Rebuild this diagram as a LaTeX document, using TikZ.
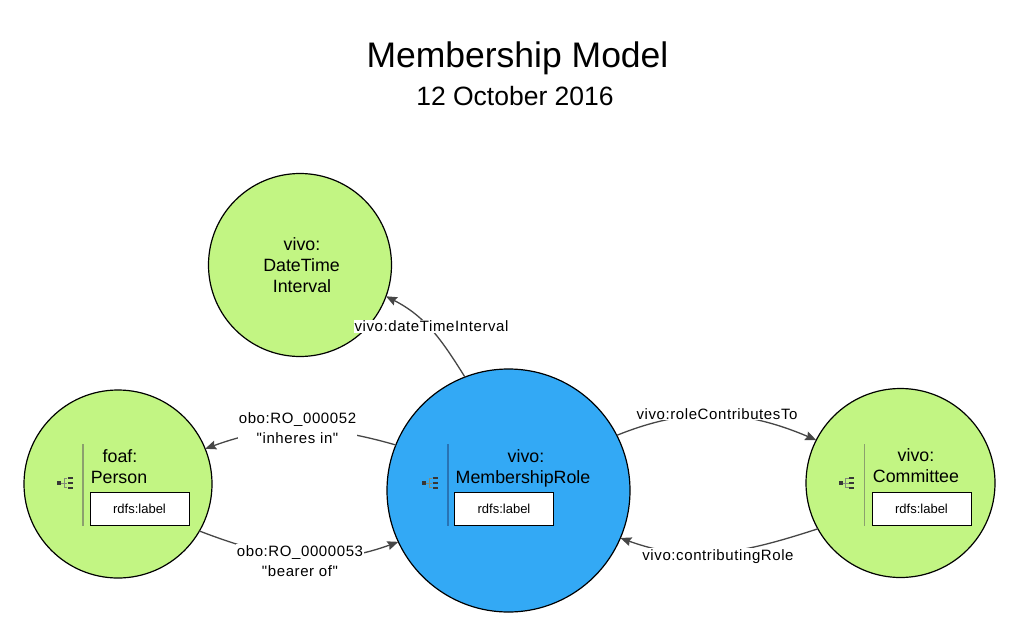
\documentclass[tikz,border=0pt]{standalone}
\usepackage{fontspec}
\setmainfont{Liberation Sans}
\newfontfamily\lblfont[LetterSpace=4]{Liberation Sans}
\usetikzlibrary{arrows.meta}
\definecolor{nodegreen}{RGB}{194,245,131}
\definecolor{nodeblue}{RGB}{51,169,245}
\definecolor{edgegray}{RGB}{70,70,70}
\definecolor{sepgreen}{RGB}{140,160,110}
\definecolor{sepblue}{RGB}{40,115,180}
\definecolor{icongray}{RGB}{55,55,55}
\definecolor{thingray}{RGB}{130,140,120}
\newcommand{\classicon}[2]{%
  \begin{scope}[shift={(#1,-#2)}]
    \fill[icongray] (0,-2) rectangle (4,2);
    \draw[thingray, line width=0.6pt] (4,0) -- (10,0) (6.5,4.7) -- (6.5,-4.7) (6.5,4.7) -- (10,4.7) (6.5,-4.7) -- (10,-4.7);
    \draw[icongray, line width=2.2pt] (10.4,4.7) -- (15.4,4.7) (10.4,0) -- (15.4,0) (10.4,-4.7) -- (15.4,-4.7);
  \end{scope}}
\begin{document}
\begin{tikzpicture}[x=1pt,y=1pt,
  cls/.style={circle, draw=black, line width=1.2pt, inner sep=0pt, outer sep=0pt},
  nametext/.style={anchor=base, font=\fontsize{17.8}{21}\selectfont, inner sep=0pt},
  lblbox/.style={draw=black, line width=1pt, fill=white, minimum width=99pt, minimum height=33pt, inner sep=0pt, font=\fontsize{13}{15}\selectfont},
  edge/.style={draw=edgegray, line width=1.3pt, -{Stealth[length=11pt,width=9pt,inset=1.5pt]}},
  elabel/.style={fill=white, inner sep=1pt, font=\lblfont\fontsize{15}{20}\selectfont},
]
\path[use as bounding box] (0,0) rectangle (1020,-632);

\node[anchor=base, font=\fontsize{35.5}{40}\selectfont] (title) at (517.5,-67) {Membership Model};
\node[anchor=base, font=\fontsize{26.5}{30}\selectfont] (date) at (515,-105) {12 October 2016};

\node[cls, fill=nodegreen, minimum size=183pt] (dt) at (300,-265) {};
\node[cls, fill=nodegreen, minimum size=188pt] (person) at (118,-484) {};
\node[cls, fill=nodeblue, minimum size=243pt] (mr) at (508.5,-490.5) {};
\node[cls, fill=nodegreen, minimum size=189pt] (com) at (900.5,-483) {};

% DateTime text
\node[nametext] (dt1) at (302,-250) {vivo:};
\node[nametext] (dt2) at (301.5,-271) {DateTime};
\node[nametext] (dt3) at (302,-292) {Interval};

% Person
\draw[sepgreen, line width=1.8pt] (83.3,-444) -- (83.3,-526);
\classicon{57.3}{483}
\node[nametext] (p1) at (120,-462) {foaf:};
\node[nametext] (p2) at (119,-483) {Person};
\node[lblbox] (pbox) at (139.5,-508.5) {rdfs:label};

% MembershipRole
\draw[sepblue, line width=1.8pt] (448,-444) -- (448,-526);
\classicon{422.3}{483}
\node[nametext] (m1) at (526,-462) {vivo:};
\node[nametext] (m2) at (523,-483) {MembershipRole};
\node[lblbox] (mbox) at (504,-508.5) {rdfs:label};

% Committee
\draw[sepgreen, line width=1.8pt] (864.5,-444) -- (864.5,-526);
\classicon{839}{483}
\node[nametext] (c1) at (916,-461.5) {vivo:};
\node[nametext] (c2) at (916,-482.5) {Committee};
\node[lblbox] (cbox) at (921.5,-509) {rdfs:label};

% edges
\draw[edge] (mr.111) to[out=122,in=-27] (dt.-20);
\draw[edge] (mr.158) to[out=164,in=20] (person.22);
\draw[edge] (person.-30) to[out=-21,in=200] (mr.205);
\draw[edge] (mr.27) to[out=22,in=157] (com.153);
\draw[edge] (com.209) to[out=198,in=-20] (mr.-23);

% edge labels
\node[elabel, anchor=base] (l1) at (431.5,-331.7) {vivo:dateTimeInterval};
\node[elabel, anchor=base] (l2) at (717,-419) {vivo:roleContributesTo};
\node[elabel, anchor=base] (l3) at (718,-560) {vivo:contributingRole};
\node[elabel, align=center] (l4) at (297.5,-428) {obo:RO\_000052\\"inheres in"};
\node[elabel, align=center] (l5) at (300,-561) {obo:RO\_0000053\\"bearer of"};
\end{tikzpicture}
\end{document}
